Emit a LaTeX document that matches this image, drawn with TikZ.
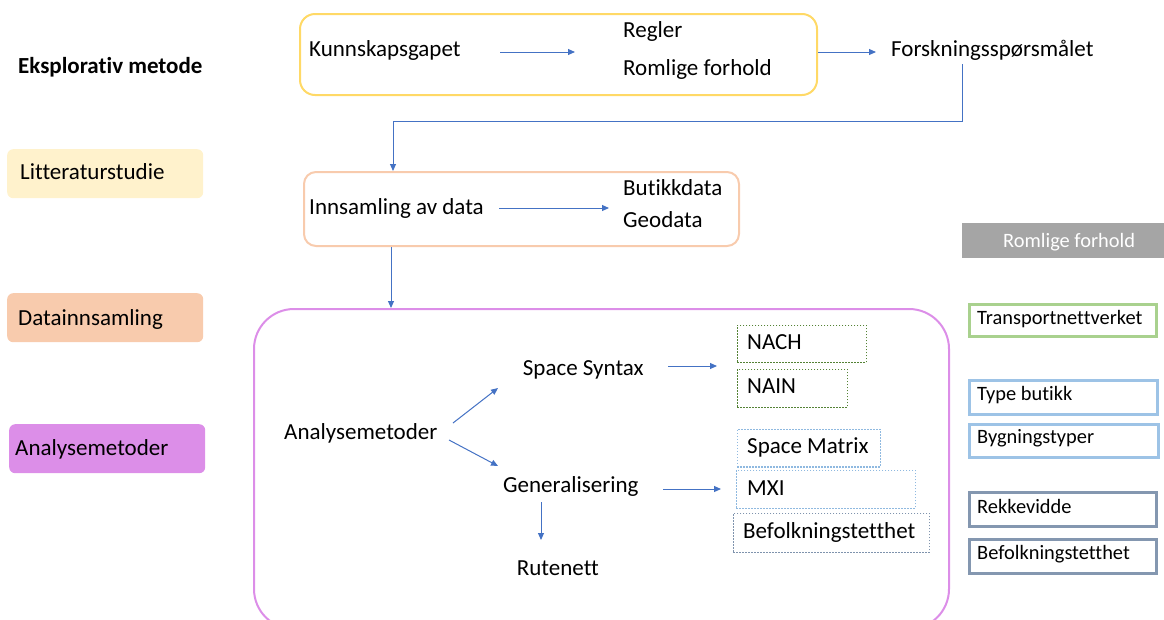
\documentclass[tikz,border=0pt]{standalone}
\usepackage{fontspec}
\setmainfont{Carlito}[Ligatures=NoCommon]
\usetikzlibrary{arrows.meta}

\definecolor{flowblue}{HTML}{4472C4}
\definecolor{goldline}{HTML}{FFD966}
\definecolor{peach}{HTML}{F8CBAD}
\definecolor{paleyellow}{HTML}{FFF2CC}
\definecolor{orchid}{HTML}{DC8EE8}
\definecolor{dotgreen}{HTML}{548235}
\definecolor{dotblue}{HTML}{8FB9E0}
\definecolor{dotslate}{HTML}{7F93AD}
\definecolor{framegreen}{HTML}{A9D18E}
\definecolor{frameblue}{HTML}{9DC3E6}
\definecolor{frameslate}{HTML}{8497B0}
\definecolor{greyfill}{HTML}{A5A5A5}

\begin{document}
\begin{tikzpicture}[x=1pt,y=-1pt,
  txt/.style={inner sep=0pt, anchor=west, text height=14.8pt, text depth=0pt,
              font=\fontsize{23}{27}\selectfont},
  smalltxt/.style={txt, text height=13.1pt, font=\fontsize{20.4}{24}\selectfont},
  shell/.style={anchor=north west, inner sep=0pt},
  conn/.style={draw=flowblue, line width=1pt, -{Triangle[length=7pt,width=6pt]}},
  stage/.style={shell, fill=#1, rounded corners=6pt},
  container/.style={shell, draw=#1, line width=2pt},
  dotbox/.style={shell, draw=#1, line width=1.6pt, dash pattern=on 1.5pt off 1.5pt},
  frame/.style={shell, draw=#1, line width=3pt},
]
\useasboundingbox (0,0) rectangle (1164,619);

% --- left column: stages -------------------------------------------------
\node[txt, font=\fontsize{23}{27}\selectfont\bfseries] (title) at (18,65.6) {Eksplorativ metode};

\node[stage=paleyellow, minimum width=196, minimum height=49] (litbox) at (7,149) {};
\node[txt] (lit) at (20,172.5) {Litteraturstudie};

\node[stage=peach, minimum width=196, minimum height=49] (databox) at (7,293) {};
\node[txt] (data) at (18,318.5) {Datainnsamling};

\node[stage=orchid, minimum width=196, minimum height=49] (analbox) at (9,424) {};
\node[txt] (anal) at (15,448.5) {Analysemetoder};

% --- top row: knowledge gap and research question -------------------------
\node[container=goldline, rounded corners=15pt, minimum width=517, minimum height=81] (topbox) at (299,13) {};
\node[txt] (kunn) at (309,49.5) {Kunnskapsgapet};
\node[txt] (regler) at (623,30.5) {Regler};
\node[txt] (romlig) at (623,68.5) {Romlige forhold};
\node[txt] (forsk) at (891,49.5) {Forskningsspørsmålet};

\coordinate (kunnOut) at (500,52);
\coordinate (reglerIn) at (575,52);
\coordinate (forskIn) at (876,52);
\coordinate (forskOut) at (962,64);
\coordinate (bend) at (393,121);

\draw[conn] (kunnOut) -- (reglerIn);
\draw[conn] (topbox.east |- forskIn) -- (forskIn);

% --- data collection -----------------------------------------------------
\node[container=peach, rounded corners=12pt, minimum width=435, minimum height=74] (inns) at (303,171) {};
\node[txt] (innsT) at (309,207) {Innsamling av data};
\node[txt] (butikk) at (623,188) {Butikkdata};
\node[txt] (geo) at (623,220.5) {Geodata};

\coordinate (innsOut) at (499,208);
\coordinate (butikkIn) at (609,208);
\draw[conn] (innsOut) -- (butikkIn);

\draw[conn] (forskOut) |- (bend) -- (bend |- inns.north);

% --- analysis methods ----------------------------------------------------
\begin{scope}
  \clip (0,0) rectangle (1164,619);
  \node[container=orchid, rounded corners=40pt, minimum width=695, minimum height=320] (big) at (253,308) {};
\end{scope}

\coordinate (drop) at (391,280);
\draw[conn] (drop |- inns.south) -- (drop |- big.north);

\node[txt] (anaT) at (284,432.5) {Analysemetoder};
\node[txt] (syntax) at (522.7,368) {Space Syntax};
\node[txt] (gen) at (503,485) {Generalisering};
\node[txt] (rute) at (516.7,568.5) {Rutenett};

\coordinate (anaUp) at (453,423);
\coordinate (syntaxIn) at (498,388);
\coordinate (anaDown) at (449,440);
\coordinate (genIn) at (498,466);
\coordinate (genDown) at (541,502);
\coordinate (ruteIn) at (541,540);
\coordinate (syntaxOut) at (668,366);
\coordinate (nachIn) at (717,366);
\coordinate (genOut) at (663,489);
\coordinate (mxiIn) at (721,489);

\draw[conn] (anaUp) -- (syntaxIn);
\draw[conn] (anaDown) -- (genIn);
\draw[conn] (genDown) -- (ruteIn);
\draw[conn] (syntaxOut) -- (nachIn);
\draw[conn] (genOut) -- (mxiIn);

% dotted measure boxes
\node[dotbox=dotgreen, minimum width=129, minimum height=37] (nach) at (736.5,324.5) {};
\node[txt] (nachT) at (747,342) {NACH};
\node[dotbox=dotgreen, minimum width=110, minimum height=38] (nain) at (736.5,368.5) {};
\node[txt] (nainT) at (747,386) {NAIN};
\node[dotbox=dotblue, minimum width=143, minimum height=37.5] (smat) at (736.5,428.5) {};
\node[txt] (smatT) at (747,446.3) {Space Matrix};
\node[dotbox=dotblue, minimum width=179, minimum height=38] (mxi) at (735.5,469.5) {};
\node[txt] (mxiT) at (747,488) {MXI};
\node[dotbox=dotslate, minimum width=196, minimum height=39] (befd) at (732.5,512.5) {};
\node[txt] (befdT) at (743,531) {Befolkningstetthet};

% --- right column: spatial relations ---------------------------------------
\node[shell, fill=greyfill, minimum width=202, minimum height=35] (romBox) at (962,223) {};
\node[smalltxt, text=white] (romT) at (1003,240.8) {Romlige forhold};

\node[frame=framegreen, minimum width=187, minimum height=32] (trans) at (967.5,302.5) {};
\node[smalltxt] (transT) at (977,317.5) {Transportnettverket};
\node[frame=frameblue, minimum width=188, minimum height=34] (type) at (967.5,378.5) {};
\node[smalltxt] (typeT) at (977,393.7) {Type butikk};
\node[frame=frameblue, minimum width=189, minimum height=33] (bygn) at (967.5,422.5) {};
\node[smalltxt] (bygnT) at (977,437) {Bygningstyper};
\node[frame=frameslate, minimum width=187, minimum height=34] (rekk) at (967.5,490.5) {};
\node[smalltxt] (rekkT) at (977,506.7) {Rekkevidde};
\node[frame=frameslate, minimum width=187, minimum height=34] (befr) at (967.5,537.5) {};
\node[smalltxt] (befrT) at (977,552.5) {Befolkningstetthet};
\end{tikzpicture}
\end{document}
